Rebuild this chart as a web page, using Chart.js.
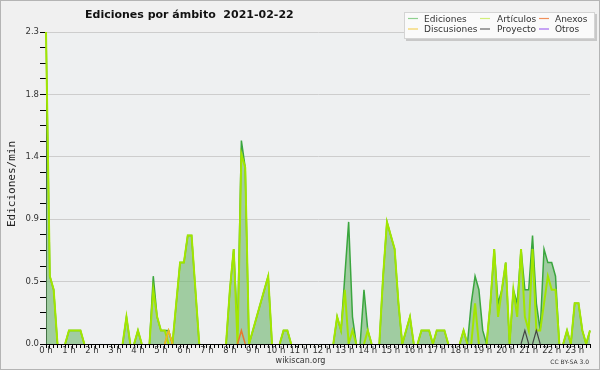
<!DOCTYPE html>
<html lang="es">
<head>
<meta charset="utf-8">
<title>Ediciones por ámbito 2021-02-22</title>
<script src="https://cdn.jsdelivr.net/npm/chart.js@4.4.1/dist/chart.umd.min.js"></script>
<style>
    html, body { margin: 0; padding: 0; background: #f0f0f0; }
    #wrap { width: 600px; height: 370px; }
</style>
</head>
<body>
<div id="wrap"><canvas id="editsChart" width="600" height="370"></canvas></div>
<script>
// one value every 10 minutes, 0 h .. 23 h 40
const hours = ['0 h', '1 h', '2 h', '3 h', '4 h', '5 h', '6 h', '7 h', '8 h', '9 h', '10 h', '11 h',
    '12 h', '13 h', '14 h', '15 h', '16 h', '17 h', '18 h', '19 h', '20 h', '21 h', '22 h', '23 h'];

const ediciones = [
    2.3, 0.5, 0.4, 0, 0, 0,    0.1, 0.1, 0.1, 0.1, 0, 0,
    0, 0, 0, 0, 0, 0,          0, 0, 0, 0.2, 0, 0,
    0.1, 0, 0, 0, 0.5, 0.2,    0.1, 0.1, 0.1, 0, 0.3, 0.6,
    0.6, 0.8, 0.8, 0.4, 0, 0,  0, 0, 0, 0, 0, 0,
    0.4, 0.7, 0.1, 1.5, 1.3, 0, 0.1, 0.2, 0.3, 0.4, 0.5, 0,
    0, 0, 0.1, 0.1, 0, 0,      0, 0, 0, 0, 0, 0,
    0, 0, 0, 0, 0.2, 0.1,      0.5, 0.9, 0.2, 0, 0, 0.4,
    0.1, 0, 0, 0, 0.5, 0.9,    0.8, 0.7, 0.3, 0, 0.1, 0.2,
    0, 0, 0.1, 0.1, 0.1, 0,    0.1, 0.1, 0.1, 0, 0, 0,
    0, 0.1, 0, 0.3, 0.5, 0.4,  0.1, 0, 0.3, 0.7, 0.3, 0.4,
    0.6, 0, 0.4, 0.3, 0.7, 0.4, 0.4, 0.8, 0.3, 0.1, 0.7, 0.6,
    0.6, 0.5, 0, 0, 0.1, 0,    0.3, 0.3, 0.1, 0, 0.1
];

const articulos = [
    2.3, 0.5, 0.4, 0, 0, 0,    0.1, 0.1, 0.1, 0.1, 0, 0,
    0, 0, 0, 0, 0, 0,          0, 0, 0, 0.2, 0, 0,
    0.1, 0, 0, 0, 0.4, 0.2,    0.1, 0.1, 0, 0, 0.3, 0.6,
    0.6, 0.8, 0.8, 0.4, 0, 0,  0, 0, 0, 0, 0, 0,
    0.4, 0.7, 0, 1.4, 1.3, 0,  0.1, 0.2, 0.3, 0.4, 0.5, 0,
    0, 0, 0.1, 0.1, 0, 0,      0, 0, 0, 0, 0, 0,
    0, 0, 0, 0, 0.2, 0.1,      0.4, 0, 0.1, 0, 0, 0,
    0.1, 0, 0, 0, 0.5, 0.9,    0.8, 0.7, 0.3, 0, 0.1, 0.2,
    0, 0, 0.1, 0.1, 0.1, 0,    0.1, 0.1, 0.1, 0, 0, 0,
    0, 0.1, 0, 0, 0.3, 0,      0, 0, 0.3, 0.7, 0.2, 0.4,
    0.6, 0, 0.4, 0.2, 0.7, 0.2, 0.1, 0.7, 0.1, 0.1, 0.3, 0.5,
    0.4, 0.4, 0, 0, 0.1, 0,    0.3, 0.3, 0.1, 0, 0.1
];

const anexos = [
    0, 0, 0, 0, 0, 0,  0, 0, 0, 0, 0, 0,
    0, 0, 0, 0, 0, 0,  0, 0, 0, 0, 0, 0,
    0, 0, 0, 0, 0, 0,  0, 0, 0.1, 0, 0, 0,
    0, 0, 0, 0, 0, 0,  0, 0, 0, 0, 0, 0,
    0, 0, 0, 0.1, 0, 0, 0, 0, 0, 0, 0, 0,
    0, 0, 0, 0, 0, 0,  0, 0, 0, 0, 0, 0,
    0, 0, 0, 0, 0, 0,  0, 0, 0, 0, 0, 0,
    0, 0, 0, 0, 0, 0,  0, 0, 0, 0, 0, 0,
    0, 0, 0, 0, 0, 0,  0, 0, 0, 0, 0, 0,
    0, 0, 0, 0, 0, 0,  0, 0, 0, 0, 0, 0,
    0, 0, 0, 0, 0, 0,  0, 0, 0, 0, 0, 0,
    0, 0, 0, 0, 0, 0,  0, 0, 0, 0, 0
];

const discusiones = [
    0, 0, 0, 0, 0, 0,  0, 0, 0, 0, 0, 0,
    0, 0, 0, 0, 0, 0,  0, 0, 0, 0, 0, 0,
    0, 0, 0, 0, 0, 0,  0, 0, 0.1, 0, 0, 0,
    0, 0, 0, 0, 0, 0,  0, 0, 0, 0, 0, 0,
    0, 0, 0, 0, 0, 0,  0, 0, 0, 0, 0, 0,
    0, 0, 0, 0, 0, 0,  0, 0, 0, 0, 0, 0,
    0, 0, 0, 0, 0, 0,  0, 0, 0, 0, 0, 0,
    0, 0, 0, 0, 0, 0,  0, 0, 0, 0, 0, 0,
    0, 0, 0, 0, 0, 0,  0, 0, 0, 0, 0, 0,
    0, 0, 0, 0, 0, 0,  0, 0, 0, 0, 0, 0,
    0, 0, 0, 0, 0, 0,  0, 0, 0, 0, 0, 0,
    0, 0, 0, 0, 0, 0,  0, 0, 0, 0, 0
];

const proyecto = [
    0, 0, 0, 0, 0, 0,  0, 0, 0, 0, 0, 0,
    0, 0, 0, 0, 0, 0,  0, 0, 0, 0, 0, 0,
    0, 0, 0, 0, 0, 0,  0, 0, 0, 0, 0, 0,
    0, 0, 0, 0, 0, 0,  0, 0, 0, 0, 0, 0,
    0, 0, 0, 0, 0, 0,  0, 0, 0, 0, 0, 0,
    0, 0, 0, 0, 0, 0,  0, 0, 0, 0, 0, 0,
    0, 0, 0, 0, 0, 0,  0, 0, 0, 0, 0, 0,
    0, 0, 0, 0, 0, 0,  0, 0, 0, 0, 0, 0,
    0, 0, 0, 0, 0, 0,  0, 0, 0, 0, 0, 0,
    0, 0, 0, 0, 0, 0,  0, 0, 0, 0, 0, 0,
    0, 0, 0, 0, 0, 0.1, 0, 0, 0.1, 0, 0, 0,
    0, 0, 0, 0, 0, 0,  0, 0, 0, 0, 0
];

const otros = [
    0, 0, 0, 0, 0, 0,  0, 0, 0, 0, 0, 0,
    0, 0, 0, 0, 0, 0,  0, 0, 0, 0, 0, 0,
    0, 0, 0, 0, 0, 0,  0, 0, 0, 0, 0, 0,
    0, 0, 0, 0, 0, 0,  0, 0, 0, 0, 0, 0,
    0, 0, 0, 0, 0, 0,  0, 0, 0, 0, 0, 0,
    0, 0, 0, 0, 0, 0,  0, 0, 0, 0, 0, 0,
    0, 0, 0, 0, 0, 0,  0, 0, 0, 0, 0, 0,
    0, 0, 0, 0, 0, 0,  0, 0, 0, 0, 0, 0,
    0, 0, 0, 0, 0, 0,  0, 0, 0, 0, 0, 0,
    0, 0, 0, 0, 0, 0,  0, 0, 0, 0, 0, 0,
    0, 0, 0, 0, 0, 0,  0, 0, 0, 0, 0, 0,
    0, 0, 0, 0, 0, 0,  0, 0, 0, 0, 0
];

const FONT = 'DejaVu Sans';

document.addEventListener('DOMContentLoaded', function () {
    renderChart();
});

function buildLabels(count) {
    const labels = [];
    for (let i = 0; i < count; i++) {
        labels.push(i % 6 === 0 ? hours[i / 6] : '');
    }
    return labels;
}

// pChart-like frame, title, legend box and credits
const decorations = {
    id: 'decorations',
    beforeDraw(chart) {
        const { ctx, chartArea: a } = chart;
        ctx.save();
        ctx.fillStyle = '#f0f0f0';
        ctx.fillRect(0, 0, chart.width, chart.height);
        ctx.fillStyle = '#eef0f1';
        ctx.fillRect(a.left, a.top, a.right - a.left, a.bottom - a.top);
        ctx.strokeStyle = '#b4b4b4';
        ctx.lineWidth = 1;
        ctx.strokeRect(0.5, 0.5, chart.width - 1, chart.height - 1);
        ctx.restore();
    },
    afterDraw(chart) {
        const ctx = chart.ctx;
        ctx.save();

        ctx.fillStyle = '#111';
        ctx.font = `bold 11px "${FONT}"`;
        ctx.textAlign = 'left';
        ctx.textBaseline = 'alphabetic';
        ctx.fillText('Ediciones por ámbito  2021-02-22', 85, 18);

        ctx.save();
        ctx.translate(15, 184);
        ctx.rotate(-Math.PI / 2);
        ctx.textAlign = 'center';
        ctx.font = '11px "DejaVu Sans Mono"';
        ctx.fillStyle = '#222';
        ctx.fillText('Ediciones/min', 0, 0);
        ctx.restore();

        ctx.fillStyle = '#333';
        ctx.font = `8px "${FONT}"`;
        ctx.textAlign = 'center';
        ctx.fillText('wikiscan.org', 300.5, 363);
        ctx.font = `6px "${FONT}"`;
        ctx.textAlign = 'right';
        ctx.fillText('CC BY-SA 3.0', 589, 364);

        // legend box
        ctx.fillStyle = '#c8c8c8';
        ctx.fillRect(406, 14, 191, 27);
        ctx.fillStyle = '#fafafa';
        ctx.fillRect(404, 12, 191, 27);
        ctx.strokeStyle = '#d4d4d4';
        ctx.strokeRect(404.5, 12.5, 190, 26);

        const markX = [408, 480, 539];
        const textX = [424, 497, 555];
        const rowY = [18.5, 29];
        ctx.font = `9px "${FONT}"`;
        ctx.textAlign = 'left';
        chart.data.datasets.forEach((ds, i) => {
            const col = i % 3;
            const row = Math.floor(i / 3);
            ctx.strokeStyle = ds.legendColor;
            ctx.lineWidth = 1.2;
            ctx.beginPath();
            ctx.moveTo(markX[col], rowY[row]);
            ctx.lineTo(markX[col] + 10, rowY[row]);
            ctx.stroke();
            ctx.fillStyle = '#333';
            ctx.fillText(ds.label, textX[col], rowY[row] + 3);
        });

        ctx.restore();
    }
};

function renderChart() {
    const ctx = document.getElementById('editsChart').getContext('2d');
    const tickFont = { family: FONT, size: 8.5 };

    // do not draw the flat parts along the axis
    const hideFlat = {
        borderColor: c => (c.p0.parsed.y === 0 && c.p1.parsed.y === 0) ? 'transparent' : undefined
    };

    window.editsChart = new Chart(ctx, {
        type: 'line',
        data: {
            labels: buildLabels(ediciones.length),
            datasets: [
                { label: 'Ediciones', data: ediciones, borderColor: '#3aa63e', borderWidth: 1.5,
                  backgroundColor: 'rgba(112,182,112,0.62)', fill: 'origin', order: 6, legendColor: '#8fd08f' },
                { label: 'Artículos', data: articulos, borderColor: '#a2e600', borderWidth: 2,
                  fill: false, order: 5, legendColor: '#d2ee7a' },
                { label: 'Anexos', data: anexos, borderColor: '#e8772e', borderWidth: 1.5,
                  fill: false, order: 4, legendColor: '#f0905a' },
                { label: 'Discusiones', data: discusiones, borderColor: '#e8c21e', borderWidth: 1.5,
                  fill: false, order: 3, legendColor: '#f3d35e' },
                { label: 'Proyecto', data: proyecto, borderColor: '#444444', borderWidth: 1.2,
                  fill: false, order: 2, legendColor: '#666666' },
                { label: 'Otros', data: otros, borderColor: '#8a4fe0', borderWidth: 1.2,
                  fill: false, order: 1, legendColor: '#a36af0' }
            ]
        },
        options: {
            responsive: false,
            animation: false,
            devicePixelRatio: 1,
            layout: { padding: { left: 0, top: 32, right: 10, bottom: 0 } },
            elements: {
                point: { radius: 0 },
                line: { tension: 0 }
            },
            datasets: {
                line: { segment: hideFlat }
            },
            plugins: {
                legend: { display: false },
                title: { display: false },
                tooltip: { enabled: false }
            },
            scales: {
                x: {
                    afterFit: scale => { scale.height = 26; },
                    ticks: {
                        autoSkip: false, maxRotation: 0, minRotation: 0,
                        padding: -2, color: '#333', font: tickFont
                    },
                    grid: { drawOnChartArea: false, tickColor: '#000', tickLength: 4 },
                    border: { color: '#000', width: 1 },
                    z: 1
                },
                y: {
                    min: 0,
                    max: 2.3,
                    afterFit: scale => { scale.width = 46; },
                    ticks: {
                        stepSize: 0.115, autoSkip: false, padding: 1, color: '#333', font: tickFont,
                        callback: (v, i) => i % 4 === 0 ? v.toFixed(1) : ''
                    },
                    grid: {
                        color: c => (c.index % 4 === 0 && c.index > 0) ? '#cdcdcd' : 'transparent',
                        tickColor: '#000',
                        tickLength: 6
                    },
                    border: { color: '#000', width: 1 }
                }
            }
        },
        plugins: [decorations]
    });
}
</script>
</body>
</html>
